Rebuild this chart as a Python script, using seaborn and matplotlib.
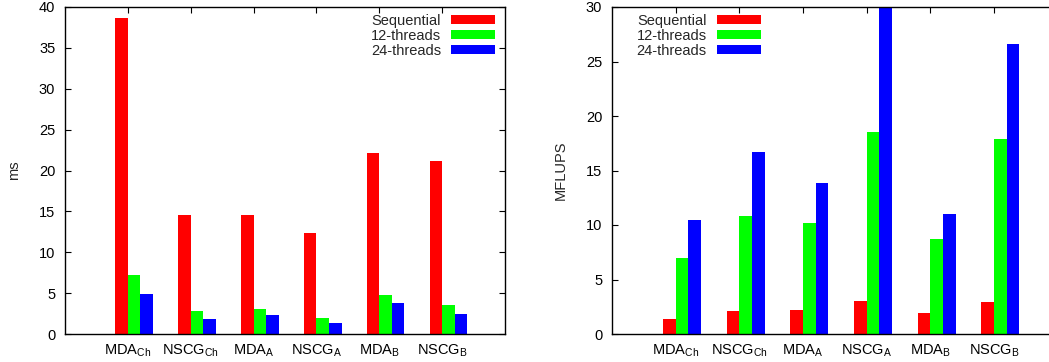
import pandas as pd
import matplotlib
matplotlib.use("Agg")
import matplotlib.pyplot as plt
import seaborn as sns
from matplotlib.patches import Patch

cases = ["MDA$_\\mathregular{Ch}$", "NSCG$_\\mathregular{Ch}$", "MDA$_\\mathregular{A}$",
         "NSCG$_\\mathregular{A}$", "MDA$_\\mathregular{B}$", "NSCG$_\\mathregular{B}$"]
series = ["Sequential", "12-threads", "24-threads"]
colors = ["#ff0000", "#00ff00", "#0000ff"]

# tiempo (ms)
ms_seq = [38.7, 14.6, 14.57, 12.3, 22.14, 21.2]
ms_12 = [7.24, 2.81, 3.01, 1.99, 4.76, 3.5]
ms_24 = [4.84, 1.83, 2.28, 1.30, 3.74, 2.4]

# rendimiento (MFLUPS)
mf_seq = [1.34, 2.08, 2.17, 3.05, 1.89, 2.96]
mf_12 = [6.93, 10.83, 10.19, 18.52, 8.67, 17.91]
mf_24 = [10.44, 16.69, 13.85, 31.5, 11.05, 26.61]

def long_df(vals, name):
    rows = []
    for s, v in zip(series, vals):
        for c, x in zip(cases, v):
            rows.append({"case": c, "series": s, name: x})
    return pd.DataFrame(rows)

df_ms = long_df([ms_seq, ms_12, ms_24], "ms")
df_mf = long_df([mf_seq, mf_12, mf_24], "MFLUPS")

sns.set_style("white")
plt.rcParams["font.family"] = ["Liberation Sans", "DejaVu Sans"]
plt.rcParams["mathtext.fontset"] = "custom"
plt.rcParams["mathtext.rm"] = "Liberation Sans"
plt.rcParams["font.size"] = 10.5

W, H = 1049, 362
fig = plt.figure(figsize=(W / 100, H / 100), dpi=100)
ax1 = fig.add_axes([65 / W, 28 / H, 440 / W, 327 / H])
ax2 = fig.add_axes([612 / W, 28 / H, 445.6 / W, 327 / H])

palette = dict(zip(series, colors))

def draw(ax, df, col, ymax, legx):
    sns.barplot(data=df, x="case", y=col, hue="series", hue_order=series, order=cases,
                palette=palette, width=0.6, saturation=1, legend=False, ax=ax,
                linewidth=0)
    ax.set_xlim(-1.1, 5.9)
    ax.set_ylim(0, ymax)
    ax.set_xticks([k - 0.1 for k in range(len(cases))])
    ax.set_xticklabels(cases)
    ax.set_yticks(range(0, ymax + 1, 5))
    ax.set_xlabel("")
    ax.set_ylabel(col, labelpad=13)
    for sp in ax.spines.values():
        sp.set_visible(True)
        sp.set_color("black")
        sp.set_linewidth(1.0)
    ax.tick_params(axis="both", direction="in", length=4, width=0.8, color="black",
                   top=True, right=True, bottom=True, left=True, labelcolor="black")
    ax.tick_params(axis="y", pad=7)
    ax.tick_params(axis="x", pad=6)
    handles = [Patch(facecolor=c, edgecolor="none") for c in colors]
    ax.legend(handles, series, loc="upper right", bbox_to_anchor=(legx, 0.98),
              frameon=False, markerfirst=False, handlelength=3.0, handleheight=0.6,
              handletextpad=0.7, labelspacing=0.08, borderpad=0, borderaxespad=0)

draw(ax1, df_ms, "ms", 40, 0.977)
draw(ax2, df_mf, "MFLUPS", 30, 0.334)

fig.savefig("out.png", dpi=100)
